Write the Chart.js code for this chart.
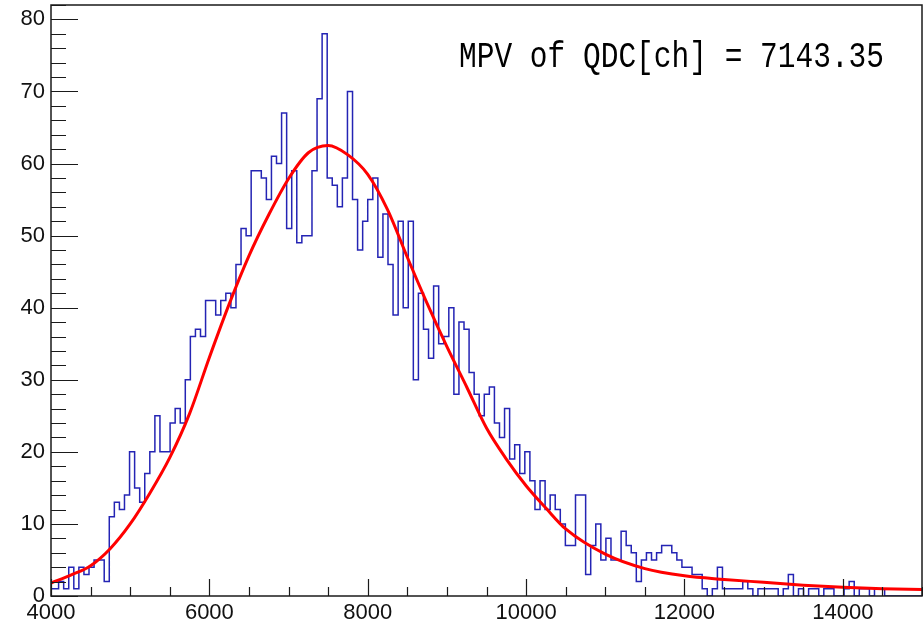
<!DOCTYPE html>
<html>
<head>
<meta charset="utf-8">
<script src="https://cdn.jsdelivr.net/npm/chart.js"></script>
<style>
  html, body { margin: 0; padding: 0; background: #fff; }
</style>
</head>
<body>
<canvas id="myChart" width="923" height="626"></canvas>
<script>
// QDC histogram, 64 ch bins, first bin starts at 3968 (clipped by the frame)
const binStart = 3968;
const binWidth = 64;
const counts = [
  5, 1, 1, 2, 1, 4, 1, 4, 3, 4, 5, 5, 2,
  11, 13, 12, 14, 20, 15, 13, 17, 20, 25,
  20, 20, 24, 26, 24, 30, 36, 37, 36,
  41, 41, 39, 41, 42, 40, 46, 51, 50, 59, 59, 58, 55, 61, 60, 67, 51,
  59, 49, 50, 50, 59, 69, 78, 58, 57, 54, 58, 70,
  55, 48, 52, 55, 58, 47, 53, 46, 39, 52, 40, 52,
  30, 42, 37, 33, 43, 35, 36, 40, 28, 38, 37, 31, 28,
  25, 28, 29, 24, 22, 26, 19, 21, 17, 20, 16, 12, 16, 12,
  14, 12, 10, 7, 7, 14, 14, 3, 7, 10, 5, 8, 5, 5, 9, 7, 6, 2, 5, 6,
  5, 6, 7, 7, 6, 5, 4, 4, 3, 3, 1, 0, 1, 4, 1, 1, 1, 1, 2, 1,
  0, 1, 1, 1, 1, 0, 1, 3, 0, 1, 0, 1, 1, 0, 1, 1, 0, 0, 1, 2,
  0, 1, 1, 0, 1, 1, 0, 0, 0, 0, 0, 0, 0
];

// fitted curve
const fitX = [4000, 4250, 4500, 4750, 5000, 5250, 5500, 5750, 6000, 6250, 6500, 6750,
  7000, 7250, 7500, 7750, 8000, 8250, 8500, 8750, 9000, 9250, 9500, 9750, 10000,
  10250, 10500, 11000, 11500, 12000, 12500, 13000, 13500, 14000, 14500, 15000];
const fitY = [1.8, 2.9, 4.2, 6.6, 10.0, 14.3, 19.2, 25.3, 33.1, 40.5, 47.2, 52.9,
  57.9, 61.5, 62.5, 61.2, 58.5, 53.6, 47.0, 40.6, 34.6, 29.0, 23.3, 19.0, 15.3,
  12.2, 9.3, 5.8, 3.8, 2.8, 2.3, 1.9, 1.5, 1.2, 1.0, 0.9];

const xTicks = [4000, 6000, 8000, 10000, 12000, 14000];
const yTicks = [0, 10, 20, 30, 40, 50, 60, 70, 80];
const mpvLabel = 'MPV of QDC[ch] = 7143.35';

const histPoints = counts.map((c, i) => ({x: binStart + i * binWidth, y: c}));
histPoints.push({x: binStart + counts.length * binWidth, y: 0});
const fitPoints = fitX.map((x, i) => ({x: x, y: fitY[i]}));

// ROOT style frame: box, inward ticks, text box
const rootFrame = {
  id: 'rootFrame',
  afterDatasetsDraw(chart) {
    const {ctx, chartArea: a, scales: {x, y}} = chart;
    ctx.save();
    ctx.strokeStyle = '#1a1a1a';
    ctx.lineWidth = 1.2;
    ctx.beginPath();
    for (let v = 4000; v <= 15000; v += 500) {
      const px = Math.round(x.getPixelForValue(v)) + 0.5;
      const len = v % 2000 === 0 ? 17 : 9;
      ctx.moveTo(px, a.bottom);
      ctx.lineTo(px, a.bottom - len);
    }
    for (let v = 0; v <= 82; v += 2) {
      const py = Math.round(y.getPixelForValue(v)) + 0.5;
      const len = v % 10 === 0 ? 27 : 15;
      ctx.moveTo(a.left, py);
      ctx.lineTo(a.left + len, py);
    }
    ctx.stroke();
    ctx.lineWidth = 1.5;
    ctx.strokeRect(a.left, a.top, a.right - a.left, a.bottom - a.top);

    ctx.font = '36px "Liberation Mono", "Courier New", monospace';
    ctx.fillStyle = '#000';
    ctx.textBaseline = 'alphabetic';
    const w = ctx.measureText(mpvLabel).width;
    ctx.translate(a.right - 463, 67);
    ctx.scale(425 / w, 1);
    ctx.fillText(mpvLabel, 0, 0);
    ctx.restore();
  }
};

const tickFont = {family: '"Liberation Sans", Arial, sans-serif', size: 22};

new Chart(document.getElementById('myChart'), {
  type: 'line',
  data: {
    datasets: [{
      label: 'fit',
      data: fitPoints,
      borderColor: '#ff0000',
      borderWidth: 3,
      pointRadius: 0,
      cubicInterpolationMode: 'monotone',
      fill: false,
      order: 0
    }, {
      label: 'QDC',
      data: histPoints,
      borderColor: '#2424b4',
      borderWidth: 1.5,
      pointRadius: 0,
      stepped: 'after',
      fill: false,
      order: 1
    }]
  },
  options: {
    responsive: false,
    animation: false,
    devicePixelRatio: 1,
    layout: {padding: {top: 5, right: 1, left: 0, bottom: 0}},
    plugins: {legend: {display: false}, tooltip: {enabled: false}},
    scales: {
      x: {
        type: 'linear',
        min: 4000,
        max: 15000,
        grid: {display: false, drawTicks: false},
        border: {display: false},
        afterBuildTicks: s => { s.ticks = xTicks.map(v => ({value: v})); },
        afterFit: s => { s.height = 30; s.paddingLeft = 0; s.paddingRight = 0; },
        ticks: {font: tickFont, color: '#111', padding: 4, maxRotation: 0, autoSkip: false,
                callback: v => String(v)}
      },
      y: {
        type: 'linear',
        min: 0,
        max: 82,
        grid: {display: false, drawTicks: false},
        border: {display: false},
        afterBuildTicks: s => { s.ticks = yTicks.map(v => ({value: v})); },
        afterFit: s => { s.width = 51; s.paddingTop = 0; s.paddingBottom = 0; },
        ticks: {font: tickFont, color: '#111', padding: 6, autoSkip: false,
                callback: v => String(v)}
      }
    }
  },
  plugins: [rootFrame]
});
</script>
</body>
</html>
